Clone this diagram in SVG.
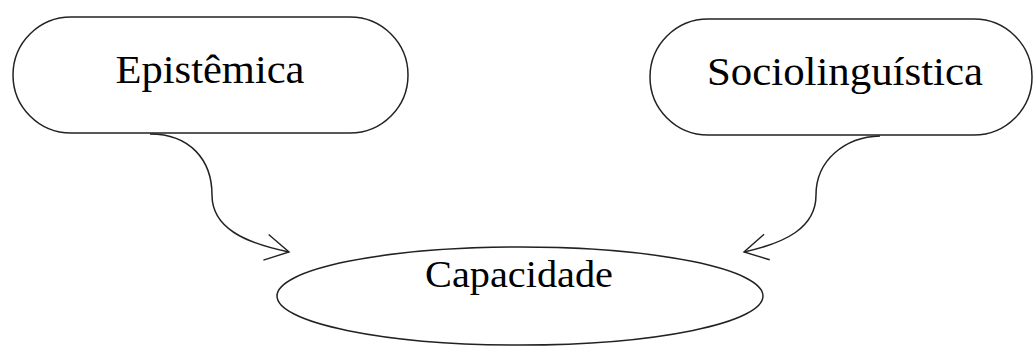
<svg xmlns="http://www.w3.org/2000/svg" width="1034" height="347" viewBox="0 0 1034 347">
<style>
.shape{fill:#fff;stroke:#222;stroke-width:1.5}
.lbl{font-family:"Liberation Serif","Times New Roman",serif;fill:#000;text-anchor:middle}
.edge{fill:none;stroke:#222;stroke-width:1.5}
</style>
<defs>
<marker id="open" markerUnits="userSpaceOnUse" orient="auto" markerWidth="30" markerHeight="30" refX="0" refY="0" viewBox="-30 -15 32 30" overflow="visible">
<path d="M-25,-14 L0,0 L-25,14" fill="none" stroke="#222" stroke-width="1.5"/>
</marker>
</defs>
<rect width="1034" height="347" fill="#fff"/>
<g id="connectors">
<path class="edge" d="M150,134 C190,134 212,160 212,195 C212,228 245,243 289,252" marker-end="url(#open)"/>
<path class="edge" d="M880,136 C845,137 816,160 816,195 C816,228 785,243 744,252" marker-end="url(#open)"/>
</g>
<g id="epistemica">
<rect class="shape" x="13" y="17" width="395" height="116" rx="58" ry="58"/>
<text class="lbl" x="210" y="83" font-size="39" textLength="189" lengthAdjust="spacingAndGlyphs">Epistêmica</text>
</g>
<g id="sociolinguistica">
<rect class="shape" x="650" y="19" width="382" height="116" rx="58" ry="58"/>
<text class="lbl" x="845" y="85" font-size="41" textLength="276" lengthAdjust="spacingAndGlyphs">Sociolinguística</text>
</g>
<g id="capacidade">
<ellipse class="shape" cx="520" cy="296" rx="243" ry="49"/>
<text class="lbl" x="519" y="287" font-size="38" textLength="188" lengthAdjust="spacingAndGlyphs">Capacidade</text>
</g>
</svg>
